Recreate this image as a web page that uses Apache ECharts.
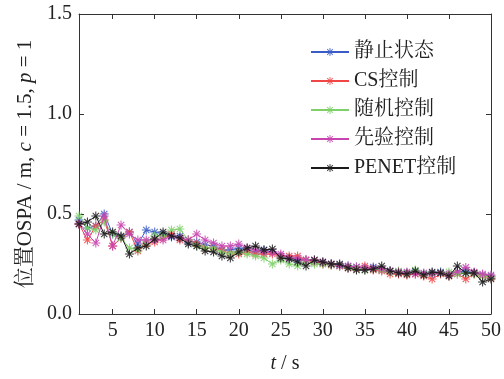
<!DOCTYPE html>
<html>
<head>
<meta charset="utf-8">
<script src="https://cdn.jsdelivr.net/npm/echarts@6/dist/echarts.min.js"></script>
<style>
  html, body { margin: 0; padding: 0; background: #fff; }
  #chart { width: 504px; height: 379px; }
</style>
</head>
<body>
<div id="chart"></div>
<script>
// 时间轴 1..50 s
const times = Array.from({ length: 50 }, (_, i) => i + 1);
const xTicks = [5, 10, 15, 20, 25, 30, 35, 40, 45, 50];

const seriesNames = ["静止状态", "CS控制", "随机控制", "先验控制", "PENET控制"];
const seriesColors = ["#3b5cc6", "#f04646", "#7fd06a", "#c845b0", "#1a1a1a"];

const staticVals = [
  0.47, 0.43, 0.44, 0.50, 0.40, 0.385, 0.41, 0.35, 0.42, 0.41,
  0.40, 0.385, 0.39, 0.36, 0.36, 0.345, 0.34, 0.32, 0.32, 0.33,
  0.32, 0.31, 0.32, 0.31, 0.29, 0.28, 0.27, 0.27, 0.26, 0.255,
  0.25, 0.245, 0.24, 0.235, 0.23, 0.235, 0.22, 0.215, 0.21, 0.205,
  0.21, 0.20, 0.205, 0.21, 0.195, 0.21, 0.215, 0.205, 0.195, 0.19
];
const csVals = [
  0.45, 0.37, 0.44, 0.47, 0.34, 0.38, 0.41, 0.315, 0.35, 0.36,
  0.38, 0.40, 0.37, 0.37, 0.35, 0.33, 0.33, 0.32, 0.30, 0.30,
  0.31, 0.30, 0.30, 0.30, 0.29, 0.29, 0.29, 0.27, 0.26, 0.25,
  0.245, 0.24, 0.23, 0.225, 0.24, 0.22, 0.215, 0.20, 0.20, 0.195,
  0.20, 0.19, 0.175, 0.20, 0.19, 0.20, 0.175, 0.20, 0.19, 0.18
];
const randomVals = [
  0.49, 0.43, 0.42, 0.46, 0.40, 0.38, 0.33, 0.32, 0.36, 0.39,
  0.39, 0.42, 0.425, 0.37, 0.34, 0.33, 0.33, 0.31, 0.30, 0.31,
  0.30, 0.29, 0.28, 0.25, 0.27, 0.25, 0.24, 0.26, 0.25, 0.25,
  0.245, 0.24, 0.235, 0.23, 0.22, 0.225, 0.22, 0.21, 0.215, 0.205,
  0.22, 0.20, 0.20, 0.205, 0.21, 0.20, 0.205, 0.20, 0.19, 0.185
];
const priorVals = [
  0.45, 0.40, 0.355, 0.49, 0.34, 0.445, 0.40, 0.37, 0.37, 0.37,
  0.37, 0.39, 0.38, 0.37, 0.40, 0.37, 0.355, 0.34, 0.34, 0.35,
  0.33, 0.32, 0.31, 0.31, 0.30, 0.28, 0.28, 0.27, 0.27, 0.26,
  0.25, 0.24, 0.24, 0.235, 0.23, 0.23, 0.225, 0.215, 0.21, 0.21,
  0.20, 0.205, 0.20, 0.205, 0.20, 0.21, 0.233, 0.21, 0.20, 0.195
];
const penetVals = [
  0.45, 0.46, 0.49, 0.40, 0.41, 0.39, 0.30, 0.33, 0.34, 0.375,
  0.41, 0.39, 0.38, 0.35, 0.34, 0.315, 0.31, 0.29, 0.28, 0.31,
  0.33, 0.34, 0.32, 0.325, 0.28, 0.275, 0.26, 0.24, 0.27, 0.26,
  0.25, 0.25, 0.23, 0.22, 0.22, 0.225, 0.24, 0.215, 0.205, 0.20,
  0.215, 0.195, 0.21, 0.205, 0.19, 0.24, 0.205, 0.205, 0.16, 0.175
];
const allVals = [staticVals, csVals, randomVals, priorVals, penetVals];

const FONT = '"Liberation Serif", "Noto Serif CJK SC", "Noto Sans CJK SC", serif';
const AXIS_COLOR = "#333";

// matlab风格的 * 号标记
const ASTERISK =
  "path://M-1.2,-10L1.2,-10L1.2,10L-1.2,10Z" +
  "M-10,-1.2L10,-1.2L10,1.2L-10,1.2Z" +
  "M-6.15,-7.85L7.85,6.15L6.15,7.85L-7.85,-6.15Z" +
  "M7.85,-6.15L-6.15,7.85L-7.85,6.15L6.15,-7.85Z";

const chart = echarts.init(document.getElementById("chart"), null, { renderer: "canvas" });

const boxAxis = (extra) => ({
  axisLine: { show: true, onZero: false, lineStyle: { color: AXIS_COLOR, width: 1 } },
  axisTick: { show: true, inside: true, length: 5, lineStyle: { color: AXIS_COLOR } },
  splitLine: { show: false },
  ...extra,
});

const option = {
  animation: false,
  backgroundColor: "#fff",
  textStyle: { fontFamily: FONT },
  grid: { left: 79, right: 10, top: 14, bottom: 60, containLabel: false },
  legend: {
    orient: "vertical",
    left: 305,
    top: 37,
    itemWidth: 38,
    itemHeight: 10,
    itemGap: 9,
    data: seriesNames,
    textStyle: { fontFamily: FONT, fontSize: 20, color: "#222" },
  },
  xAxis: [
    boxAxis({
      type: "value",
      min: 1,
      max: 50,
      position: "bottom",
      axisTick: {
        show: true, inside: true, length: 5,
        customValues: xTicks,
        lineStyle: { color: AXIS_COLOR },
      },
      axisLabel: {
        customValues: xTicks,
        margin: 7,
        fontSize: 20,
        fontFamily: FONT,
        color: "#222",
      },
      name: "{i|t} / s",
      nameLocation: "middle",
      nameGap: 40,
      nameTextStyle: {
        fontSize: 20,
        fontFamily: FONT,
        color: "#222",
        rich: { i: { fontStyle: "italic", fontSize: 20, fontFamily: FONT, color: "#222" } },
      },
    }),
    boxAxis({
      type: "value",
      min: 1,
      max: 50,
      position: "top",
      axisTick: {
        show: true, inside: true, length: 5,
        customValues: xTicks,
        lineStyle: { color: AXIS_COLOR },
      },
      axisLabel: { show: false },
    }),
  ],
  yAxis: [
    boxAxis({
      type: "value",
      min: 0,
      max: 1.5,
      interval: 0.5,
      position: "left",
      axisLabel: {
        margin: 7,
        fontSize: 20,
        fontFamily: FONT,
        color: "#222",
        formatter: (v) => v.toFixed(1),
      },
      name: "{n|位置OSPA / m, }{i|c}{n| = 1.5, }{i|p}{n| = 1}",
      nameLocation: "middle",
      nameGap: 41,
      nameRotate: 90,
      nameTextStyle: {
        fontSize: 21,
        fontFamily: FONT,
        color: "#222",
        rich: {
          n: { fontSize: 21, fontFamily: FONT, color: "#222" },
          i: { fontStyle: "italic", fontSize: 21, fontFamily: FONT, color: "#222" },
        },
      },
    }),
    boxAxis({
      type: "value",
      min: 0,
      max: 1.5,
      interval: 0.5,
      position: "right",
      axisLabel: { show: false },
    }),
  ],
  series: seriesNames.map((name, k) => ({
    name,
    type: "line",
    xAxisIndex: 0,
    yAxisIndex: 0,
    data: times.map((t, i) => [t, allVals[k][i]]),
    symbol: ASTERISK,
    symbolSize: 9,
    showSymbol: true,
    color: seriesColors[k],
    itemStyle: { color: seriesColors[k], opacity: 0.85 },
    lineStyle: { color: seriesColors[k], width: 1 },
    z: 2 + k,
  })),
};

chart.setOption(option);
</script>
</body>
</html>
